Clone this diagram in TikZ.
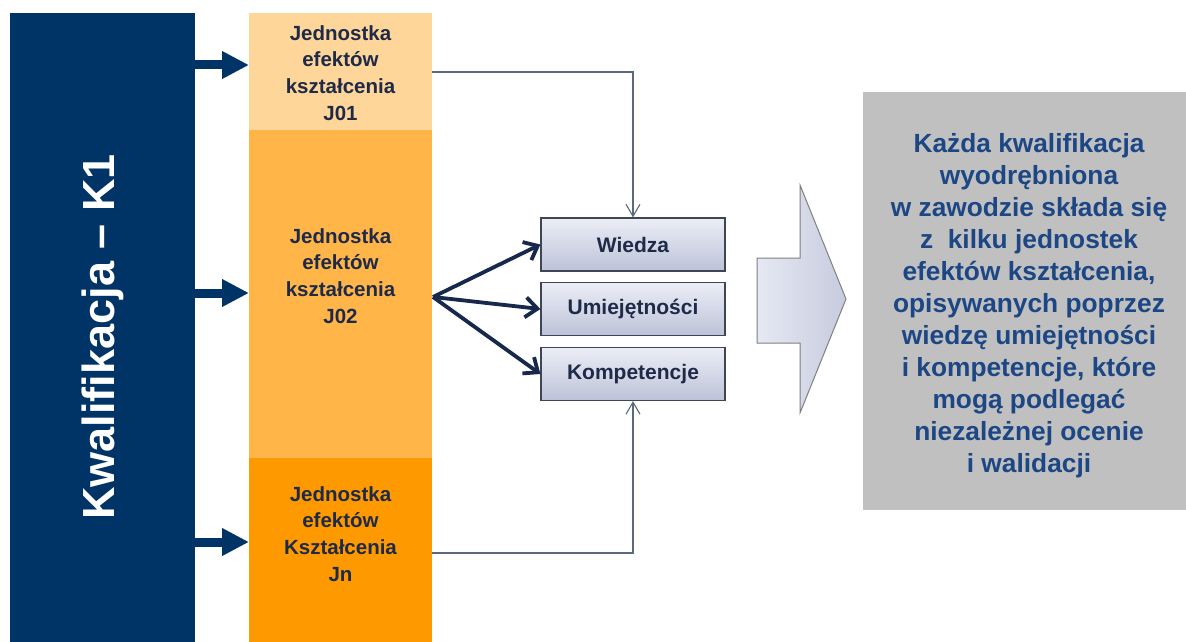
\documentclass[tikz,border=0pt]{standalone}
\usepackage{fontspec}
\setmainfont{Liberation Sans}
\usetikzlibrary{arrows.meta,calc}
\definecolor{navy}{RGB}{0,51,102}
\definecolor{peachA}{RGB}{255,214,153}
\definecolor{peachB}{RGB}{255,181,72}
\definecolor{peachC}{RGB}{255,153,0}
\definecolor{coltext}{RGB}{30,42,72}
\definecolor{boxline}{RGB}{62,70,86}
\definecolor{boxtop}{RGB}{236,238,246}
\definecolor{boxbot}{RGB}{188,194,216}
\definecolor{arrL}{RGB}{230,233,243}
\definecolor{arrR}{RGB}{198,203,222}
\definecolor{thinline}{RGB}{90,104,128}
\definecolor{greybox}{RGB}{192,192,192}
\definecolor{greytext}{RGB}{28,70,132}
\definecolor{darkarrow}{RGB}{22,40,75}
\begin{document}
\begin{tikzpicture}[x=1pt,y=-1pt,
  colbox/.style={minimum width=183pt, inner sep=0pt, anchor=north west, draw=none},
  coltxt/.style={align=center, text=coltext, font=\bfseries\fontsize{20.5}{26.7}\selectfont, inner sep=0pt},
  bigarrow/.style={draw=navy, line width=9pt, -{Triangle[length=27pt,width=26pt]}},
  thinarrow/.style={draw=thinline, line width=1.1pt, -{Straight Barb[length=12pt,width=14pt]}},
  fanarrow/.style={draw=darkarrow, line width=3.8pt, -{Straight Barb[length=12pt,width=20pt]}},
  kbox/.style={draw=boxline, line width=1.2pt, top color=boxtop, bottom color=boxbot,
     minimum width=184pt, minimum height=53pt, inner sep=0pt, text=coltext,
     font=\bfseries\fontsize{21}{24}\selectfont}
]
\useasboundingbox (0,0) rectangle (1186,642);

% left blue bar
\node[fill=navy, minimum width=185pt, minimum height=629pt, inner sep=0pt, anchor=north west] (K) at (10,13) {};
\node[rotate=90, text=white, font=\bfseries\fontsize{45}{50}\selectfont, inner sep=0pt] (Ktxt) at (103,337) {Kwalifikacja – K1};

% column of units
\node[colbox, fill=peachA, minimum height=117pt] (J01) at (249,13) {};
\node[colbox, fill=peachB, minimum height=328pt] (J02) at (249,130) {};
\node[colbox, fill=peachC, minimum height=184pt] (Jn) at (249,458) {};
\node[coltxt] (t01) at (340.5,73) {Jednostka\\efektów\\kształcenia\\J01};
\node[coltxt] (t02) at (340.5,276) {Jednostka\\efektów\\kształcenia\\J02};
\node[coltxt] (tn) at (340.5,534) {Jednostka\\efektów\\Kształcenia\\Jn};

% blue arrows
\coordinate (y1) at (0,65);
\coordinate (y2) at (0,293);
\coordinate (y3) at (0,542);
\draw[bigarrow] (K.east |- y1) -- (J01.west |- y1);
\draw[bigarrow] (K.east |- y2) -- (J02.west |- y2);
\draw[bigarrow] (K.east |- y3) -- (Jn.west |- y3);

% small boxes
\node[kbox] (W) at (633,244.5) {Wiedza};
\node[kbox] (U) at (633,309) {Umiejętności};
\node[kbox] (Kp) at (633,374) {Kompetencje};

% thin connectors
\coordinate (l1) at (0,72);
\coordinate (l2) at (0,553);
\draw[thinarrow] (J01.east |- l1) -| (W.north);
\draw[thinarrow] (Jn.east |- l2) -| (Kp.south);

% fan arrows
\coordinate (fs) at (433,297);
\draw[fanarrow] (fs) -- (W.west);
\draw[fanarrow] (fs) -- (U.west);
\draw[fanarrow] (fs) -- (Kp.west);

% block arrow
\path[draw=gray, line width=1pt, left color=arrL, right color=arrR]
  (757,258) -- (800,258) -- (800,185) -- (846,299) -- (800,413) -- (800,343) -- (757,343) -- cycle;

% grey box
\node[fill=greybox, minimum width=323pt, minimum height=418pt, inner sep=0pt, anchor=north west] (G) at (863,92) {};
\node[align=center, text=greytext, font=\bfseries\fontsize{26.3}{32}\selectfont, inner sep=0pt] (Gt) at (1029,306)
 {Każda kwalifikacja\\wyodrębniona\\w zawodzie składa się\\z\ \ kilku jednostek\\efektów kształcenia,\\opisywanych poprzez\\wiedzę umiejętności\\i kompetencje, które\\mogą podlegać\\niezależnej ocenie\\i walidacji};
\end{tikzpicture}
\end{document}
